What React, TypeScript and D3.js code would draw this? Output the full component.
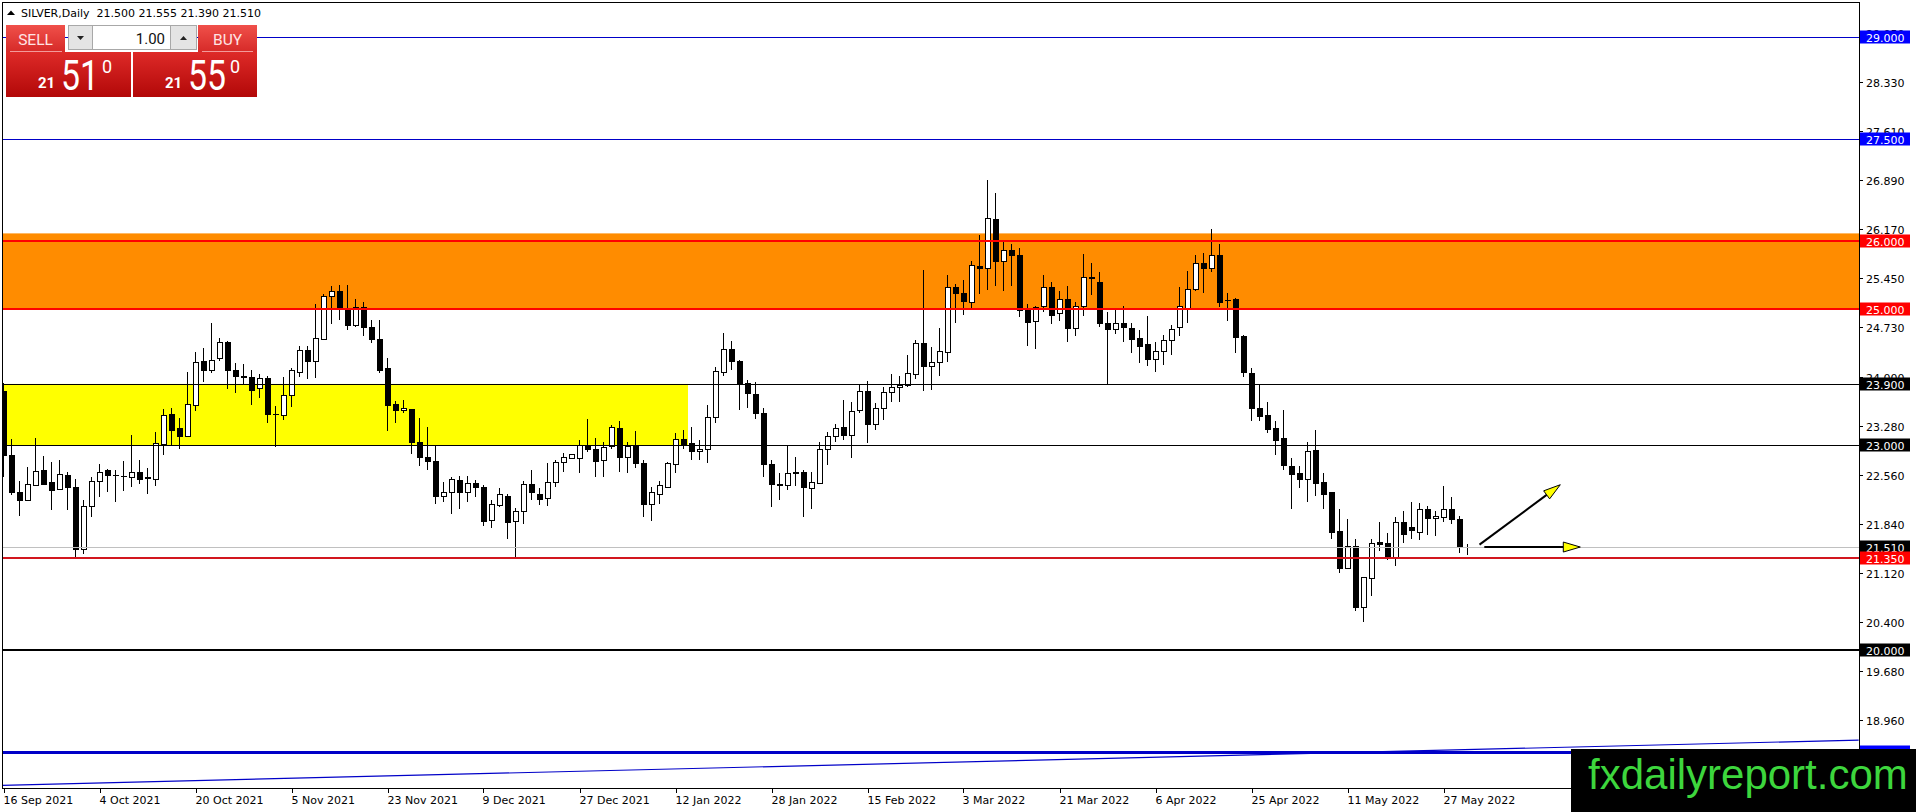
import React from 'react';
import * as d3 from 'd3';

// SILVER daily candles, 16 Sep 2021 .. 1 Jun 2022
const opens = [
  23.79, 22.86, 22.31, 22.19, 22.42, 22.63, 22.46, 22.36, 22.56, 22.39,
  21.47, 22.11, 22.47, 22.64, 22.565, 22.55, 22.54, 22.61, 22.53, 22.5,
  23.02, 23.46, 23.25, 23.13, 23.59, 24.24, 24.1, 24.28, 24.52, 24.1,
  24.01, 24.0, 23.84, 23.99, 23.46, 23.45, 23.73, 24.08, 24.4, 24.24,
  24.56, 25.19, 25.26, 25.0, 24.77, 25.03, 24.73, 24.56, 24.13, 23.6,
  23.51, 23.53, 23.05, 22.83, 22.77, 22.26, 22.32, 22.49, 22.32, 22.44,
  22.38, 21.9, 22.12, 22.26, 21.89, 22.03, 22.43, 22.29, 22.22, 22.46,
  22.75, 22.81, 22.81, 23.0, 22.95, 22.78, 22.99, 23.25, 22.83, 22.99,
  22.74, 22.13, 22.29, 22.39, 22.72, 23.09, 23.03, 22.91, 22.95, 23.41,
  24.07, 24.41, 24.24, 23.92, 23.75, 23.47, 22.72, 22.43, 22.42, 22.605,
  22.6, 22.37, 22.44, 22.95, 23.14, 23.27, 23.15, 23.51, 23.8, 23.31,
  23.55, 23.78, 23.85, 23.88, 24.04, 24.5, 24.17, 24.22, 24.37, 25.32,
  25.24, 25.11, 25.63, 25.6, 26.32, 25.71, 25.86, 25.8, 24.99, 24.83,
  25.04, 25.32, 24.94, 25.14, 24.72, 25.04, 25.465, 25.39, 24.8, 24.7,
  24.8, 24.72, 24.57, 24.49, 24.27, 24.39, 24.54, 24.73, 25.02, 25.3,
  25.67, 25.6, 25.79, 25.13, 25.14, 24.6, 24.06, 23.55, 23.45, 23.25,
  23.1, 22.7, 22.59, 22.51, 22.93, 22.46, 22.31, 21.74, 21.2, 21.52,
  20.63, 21.05, 21.58, 21.57, 21.35, 21.87, 21.8, 21.73, 22.06, 21.93,
  21.94, 22.06, 21.91, 21.5,
];
const highs = [
  23.91, 23.09, 22.47, 22.68, 23.11, 22.84, 22.75, 22.79, 22.61, 22.5,
  22.2, 22.54, 22.72, 22.65, 22.64, 22.77, 23.15, 22.78, 22.67, 23.19,
  23.53, 23.54, 23.4, 24.08, 24.37, 24.43, 24.79, 24.57, 24.53, 24.2,
  24.19, 24.1, 24.05, 24.02, 23.58, 24.0, 24.14, 24.46, 24.45, 25.08,
  25.22, 25.34, 25.35, 25.35, 25.14, 25.11, 24.84, 24.84, 24.28, 23.65,
  23.67, 23.53, 23.4, 23.27, 23.0, 22.46, 22.54, 22.55, 22.55, 22.49,
  22.42, 22.19, 22.37, 22.28, 22.08, 22.48, 22.64, 22.37, 22.74, 22.78,
  22.89, 22.87, 23.08, 23.39, 23.1, 23.05, 23.3, 23.35, 23.05, 23.21,
  22.78, 22.39, 22.48, 22.76, 23.18, 23.22, 23.27, 23.08, 23.59, 24.15,
  24.65, 24.53, 24.25, 23.96, 23.93, 23.54, 22.78, 22.59, 23.0, 22.82,
  22.63, 22.61, 23.05, 23.2, 23.31, 23.66, 23.64, 23.88, 23.94, 23.62,
  23.86, 24.04, 24.01, 24.33, 24.55, 25.57, 24.44, 24.72, 25.5, 25.37,
  25.43, 25.7, 26.09, 26.89, 26.71, 25.99, 25.95, 25.89, 25.07, 25.05,
  25.5, 25.4, 25.26, 25.34, 25.11, 25.81, 25.67, 25.54, 24.96, 24.99,
  25.04, 24.8, 24.69, 24.9, 24.52, 24.62, 24.77, 25.33, 25.56, 25.79,
  25.82, 26.17, 25.96, 25.24, 25.16, 24.62, 24.13, 23.88, 23.64, 23.36,
  23.52, 22.81, 22.7, 23.05, 23.23, 22.59, 22.32, 22.06, 21.91, 21.62,
  21.07, 21.63, 21.87, 21.71, 21.94, 22.03, 22.16, 22.15, 22.11, 22.04,
  22.4, 22.24, 21.96, 21.555,
];
const lows = [
  22.54, 22.27, 21.96, 22.18, 22.4, 22.42, 22.05, 22.34, 22.05, 21.36,
  21.4, 21.94, 22.24, 22.31, 22.16, 22.33, 22.38, 22.43, 22.29, 22.4,
  22.85, 23.0, 22.95, 23.13, 23.5, 23.93, 24.06, 24.23, 23.82, 23.77,
  23.9, 23.59, 23.69, 23.33, 22.97, 23.37, 23.56, 24.0, 23.97, 23.99,
  24.54, 24.78, 24.84, 24.69, 24.74, 24.61, 24.5, 24.06, 23.21, 23.33,
  23.47, 22.87, 22.69, 22.63, 22.13, 22.16, 21.99, 22.06, 22.17, 22.24,
  21.81, 21.78, 22.1, 21.63, 21.36, 21.85, 22.19, 22.12, 22.11, 22.38,
  22.6, 22.8, 22.59, 22.9, 22.53, 22.54, 22.95, 22.61, 22.59, 22.67,
  21.94, 21.89, 22.14, 22.37, 22.59, 22.94, 22.78, 22.78, 22.74, 23.33,
  24.02, 24.1, 23.51, 23.54, 23.38, 22.53, 22.1, 22.19, 22.34, 22.4,
  21.95, 22.07, 22.43, 22.71, 23.04, 23.07, 22.81, 23.47, 23.03, 23.22,
  23.37, 23.63, 23.64, 23.85, 23.97, 23.8, 23.81, 24.02, 24.22, 24.8,
  24.91, 24.98, 25.22, 25.28, 25.34, 25.26, 25.34, 24.88, 24.46, 24.41,
  24.96, 24.78, 24.82, 24.52, 24.61, 24.9, 25.2, 24.74, 23.9, 24.63,
  24.51, 24.36, 24.21, 24.17, 24.07, 24.18, 24.32, 24.61, 24.8, 25.26,
  25.24, 25.55, 25.03, 24.83, 24.36, 24.0, 23.35, 23.35, 23.18, 22.85,
  22.64, 22.07, 22.37, 22.16, 22.25, 22.06, 21.62, 21.13, 21.2, 20.56,
  20.4, 20.79, 21.45, 21.32, 21.23, 21.56, 21.62, 21.61, 21.68, 21.67,
  21.88, 21.85, 21.42, 21.39,
];
const closes = [
  22.85, 22.32, 22.2, 22.43, 22.62, 22.43, 22.34, 22.58, 22.39, 21.48,
  22.11, 22.47, 22.61, 22.57, 22.56, 22.55, 22.61, 22.51, 22.52, 23.03,
  23.45, 23.23, 23.13, 23.6, 24.22, 24.1, 24.25, 24.52, 24.1, 24.01,
  24.0, 23.81, 23.99, 23.46, 23.46, 23.73, 24.11, 24.4, 24.24, 24.58,
  25.19, 25.26, 25.02, 24.77, 25.03, 24.74, 24.56, 24.11, 23.59, 23.51,
  23.54, 23.05, 22.83, 22.77, 22.26, 22.32, 22.5, 22.32, 22.44, 22.38,
  21.89, 22.13, 22.28, 21.88, 22.03, 22.43, 22.31, 22.21, 22.46, 22.75,
  22.82, 22.87, 23.01, 22.95, 22.77, 22.97, 23.27, 22.83, 22.99, 22.74,
  22.13, 22.31, 22.42, 22.74, 23.09, 23.02, 22.91, 22.94, 23.41, 24.09,
  24.41, 24.23, 23.92, 23.76, 23.47, 22.72, 22.43, 22.42, 22.59, 22.595,
  22.38, 22.46, 22.95, 23.14, 23.26, 23.15, 23.5, 23.8, 23.31, 23.55,
  23.78, 23.86, 23.88, 24.06, 24.5, 24.17, 24.22, 24.39, 25.32, 25.24,
  25.12, 25.64, 25.6, 26.33, 25.71, 25.87, 25.8, 24.99, 24.81, 25.03,
  25.32, 24.91, 25.14, 24.72, 25.05, 25.47, 25.455, 24.8, 24.7, 24.8,
  24.73, 24.56, 24.46, 24.27, 24.39, 24.54, 24.7, 25.04, 25.3, 25.67,
  25.6, 25.8, 25.11, 25.135, 24.59, 24.07, 23.55, 23.43, 23.24, 23.08,
  22.71, 22.58, 22.51, 22.92, 22.45, 22.29, 21.73, 21.2, 21.52, 20.63,
  21.06, 21.57, 21.55, 21.35, 21.87, 21.7, 21.75, 22.06, 21.93, 21.96,
  22.06, 21.91, 21.5, 21.51,
];

const dateLabels = [
  '16 Sep 2021', '4 Oct 2021', '20 Oct 2021', '5 Nov 2021', '23 Nov 2021', '9 Dec 2021',
  '27 Dec 2021', '12 Jan 2022', '28 Jan 2022', '15 Feb 2022', '3 Mar 2022', '21 Mar 2022',
  '6 Apr 2022', '25 Apr 2022', '11 May 2022', '27 May 2022',
];
const dateLabelBars = [0, 12, 24, 36, 48, 60, 72, 84, 96, 108, 120, 132, 144, 156, 168, 180];

const priceTicks = [29.05, 28.33, 27.61, 26.89, 26.17, 25.45, 24.73, 24.0, 23.28, 22.56, 21.84, 21.12, 20.4, 19.68, 18.96, 18.24];

// horizontal levels drawn by the analyst
const blueLevels = [29.0, 27.5];
const redLevels = [26.0, 25.0];
const blackLevels = [23.9, 23.0];
const supportLevel = 21.35;
const floorLevel = 20.0;
const baseLevel = 18.5;
const bidPrice = 21.51;

const orangeZone = [25.0, 26.11];
const yellowZone = [23.0, 23.9];
const yellowZoneEndBar = 86;

// rising trend line anchors: [bar, price]
const trendLine = [[-0.2, 18.006], [231.9, 18.671]];

// outlook arrows: start and end points [bar, price]
const upArrow = [[184.5, 21.54], [194.6, 22.42]];
const flatArrow = [[185.1, 21.505], [197.1, 21.505]];

const header = 'SILVER,Daily  21.500 21.555 21.390 21.510';

const W = 1916;
const H = 812;
const plot = { left: 2, top: 2, right: 1859, bottom: 788 };
const axisFont = '"DejaVu Sans", Verdana, sans-serif';

const x = d3.scaleLinear().domain([0, 183]).range([3.5, 1467.5]);
const y = d3.scaleLinear().domain([21.35, 25]).range([557.6, 309]);

const fmt = d3.format('.3f');

function Arrow({ pts }: { pts: number[][] }) {
  const [x0, y0] = [x(pts[0][0]), y(pts[0][1])];
  const [x1, y1] = [x(pts[1][0]), y(pts[1][1])];
  const ang = Math.atan2(y1 - y0, x1 - x0);
  const len = 17;
  const hw = 5;
  const bx = x1 - len * Math.cos(ang);
  const by = y1 - len * Math.sin(ang);
  const nx = -Math.sin(ang) * hw;
  const ny = Math.cos(ang) * hw;
  return (
    <g>
      <line x1={x0} y1={y0} x2={bx} y2={by} stroke="#000" strokeWidth={2} />
      <path d={`M${x1},${y1}L${bx + nx},${by + ny}L${bx - nx},${by - ny}Z`} fill="#ffff00" stroke="#000" strokeWidth={1} />
    </g>
  );
}

function LevelLabel({ v, color }: { v: number; color: string }) {
  const yy = Math.round(y(v));
  return (
    <g>
      <rect x={1860} y={yy - 6.5} width={50} height={13} fill={color} />
      <text x={1866} y={yy + 4.5} fontSize={11} fill="#fff" fontFamily={axisFont}>{fmt(v)}</text>
    </g>
  );
}

function TradePanel() {
  return (
    <g fontFamily="Roboto, 'Liberation Sans', sans-serif">
      <defs>
        <linearGradient id="btnGrad" x1="0" y1="0" x2="0" y2="1">
          <stop offset="0" stopColor="#f0504a" />
          <stop offset="1" stopColor="#d62a28" />
        </linearGradient>
        <linearGradient id="priceGrad" x1="0" y1="0" x2="0" y2="1">
          <stop offset="0" stopColor="#de2a28" />
          <stop offset="1" stopColor="#b20808" />
        </linearGradient>
      </defs>
      {/* sell / buy buttons */}
      <rect x={6} y={25} width={59} height={27} fill="url(#btnGrad)" />
      <text x={35.5} y={44.5} textAnchor="middle" fontSize={15.5} fill="#ffe4e4">SELL</text>
      <line x1={10} x2={62} y1={51.5} y2={51.5} stroke="#f39a9a" />
      <rect x={198} y={25} width={59} height={27} fill="url(#btnGrad)" />
      <text x={227.5} y={44.5} textAnchor="middle" fontSize={15.5} fill="#ffe4e4">BUY</text>
      <line x1={202} x2={253} y1={51.5} y2={51.5} stroke="#f39a9a" />
      {/* lot size spinner */}
      <rect x={68.5} y={25.5} width={128} height={24} fill="#fff" stroke="#a8a8a8" />
      <rect x={68.5} y={25.5} width={24} height={24} fill="#e4e4e4" stroke="#a8a8a8" />
      <rect x={170.5} y={25.5} width={26} height={24} fill="#e4e4e4" stroke="#a8a8a8" />
      <path d="M77,36L84,36L80.5,40Z" fill="#222" />
      <path d="M180,40L187,40L183.5,36Z" fill="#222" />
      <text x={165} y={43.5} textAnchor="end" fontSize={15} fill="#111">1.00</text>
      {/* price boxes */}
      <rect x={6} y={52} width={125} height={45} fill="url(#priceGrad)" />
      <rect x={133} y={52} width={124} height={45} fill="url(#priceGrad)" />
      <text x={38} y={88} fontSize={15} fontWeight="bold" fill="#fff">21</text>
      <text x={61} y={89.5} fontSize={42} fill="#fff" textLength={38} lengthAdjust="spacingAndGlyphs">51</text>
      <text x={102} y={73} fontSize={18} fill="#fff">0</text>
      <text x={165} y={88} fontSize={15} fontWeight="bold" fill="#fff">21</text>
      <text x={188} y={89.5} fontSize={42} fill="#fff" textLength={38} lengthAdjust="spacingAndGlyphs">55</text>
      <text x={230} y={73} fontSize={18} fill="#fff">0</text>
    </g>
  );
}

export default function App() {
  const lineX1 = plot.left;
  const lineX2 = plot.right;
  return (
    <div style={{ position: 'absolute', left: 0, top: 0, width: W, height: H, background: '#fff' }}>
      <svg width={W} height={H} viewBox={`0 0 ${W} ${H}`} style={{ display: 'block' }}>
        <rect x={0} y={0} width={W} height={H} fill="#fff" />
        <defs>
          <clipPath id="plotClip">
            <rect x={plot.left} y={plot.top} width={plot.right - plot.left} height={plot.bottom - plot.top} />
          </clipPath>
        </defs>

        <g clipPath="url(#plotClip)">
          {/* zones */}
          <rect x={lineX1} y={y(orangeZone[1])} width={lineX2 - lineX1} height={y(orangeZone[0]) - y(orangeZone[1])} fill="#ff8c00" />
          <rect x={lineX1} y={y(yellowZone[1])} width={x(yellowZoneEndBar) - lineX1 - 3.5} height={y(yellowZone[0]) - y(yellowZone[1])} fill="#ffff00" />

          {/* candles */}
          <g shapeRendering="crispEdges">
            {opens.map((o, i) => {
              const c = closes[i];
              const cx = x(i);
              const top = Math.round(y(Math.max(o, c)));
              const bot = Math.round(y(Math.min(o, c)));
              const bull = c >= o;
              return (
                <g key={i}>
                  <line x1={cx} x2={cx} y1={y(highs[i])} y2={y(lows[i])} stroke="#000" />
                  {bot - top < 1 ? (
                    <line x1={cx - 2.5} x2={cx + 3.5} y1={top + 0.5} y2={top + 0.5} stroke="#000" />
                  ) : bull ? (
                    <rect x={cx - 2} y={top + 0.5} width={5} height={bot - top} fill="#fff" stroke="#000" />
                  ) : (
                    <rect x={cx - 2.5} y={top} width={6} height={bot - top + 1} fill="#000" />
                  )}
                </g>
              );
            })}
          </g>

          {/* level lines */}
          <g shapeRendering="crispEdges">
            {blueLevels.map(v => (
              <line key={v} x1={lineX1} x2={lineX2} y1={Math.round(y(v)) + 0.5} y2={Math.round(y(v)) + 0.5} stroke="#0000c8" />
            ))}
            {redLevels.map(v => (
              <line key={v} x1={lineX1} x2={lineX2} y1={Math.round(y(v))} y2={Math.round(y(v))} stroke="#ff0000" strokeWidth={2} />
            ))}
            {blackLevels.map(v => (
              <line key={v} x1={lineX1} x2={lineX2} y1={Math.round(y(v)) + 0.5} y2={Math.round(y(v)) + 0.5} stroke="#000" />
            ))}
            <line x1={lineX1} x2={lineX2} y1={Math.round(y(bidPrice)) + 0.5} y2={Math.round(y(bidPrice)) + 0.5} stroke="#c0c0c0" />
            <line x1={lineX1} x2={lineX2} y1={Math.round(y(supportLevel))} y2={Math.round(y(supportLevel))} stroke="#d2161e" strokeWidth={2} />
            <line x1={lineX1} x2={lineX2} y1={Math.round(y(floorLevel))} y2={Math.round(y(floorLevel))} stroke="#000" strokeWidth={2} />
            <line x1={lineX1} x2={lineX2} y1={Math.round(y(baseLevel))} y2={Math.round(y(baseLevel))} stroke="#0000c8" strokeWidth={3} />
          </g>
          <line x1={x(trendLine[0][0])} y1={y(trendLine[0][1])} x2={x(trendLine[1][0])} y2={y(trendLine[1][1])} stroke="#0000c8" strokeWidth={1.2} />

          <Arrow pts={upArrow} />
          <Arrow pts={flatArrow} />
        </g>

        {/* frame */}
        <rect x={plot.left + 0.5} y={plot.top + 0.5} width={plot.right - plot.left} height={plot.bottom - plot.top} fill="none" stroke="#000" shapeRendering="crispEdges" />

        {/* price axis */}
        <g fontFamily={axisFont} fontSize={11} fill="#000" shapeRendering="crispEdges">
          {priceTicks.map(v => {
            const yy = Math.round(y(v)) + 0.5;
            return (
              <g key={v}>
                <line x1={plot.right} x2={plot.right + 4} y1={yy} y2={yy} stroke="#000" />
                <text x={1866} y={yy + 4}>{fmt(v)}</text>
              </g>
            );
          })}
        </g>
        <LevelLabel v={blueLevels[0]} color="#0000ff" />
        <LevelLabel v={blueLevels[1]} color="#0000ff" />
        <LevelLabel v={redLevels[0]} color="#ff0000" />
        <LevelLabel v={redLevels[1]} color="#ff0000" />
        <LevelLabel v={blackLevels[0]} color="#000" />
        <LevelLabel v={blackLevels[1]} color="#000" />
        <LevelLabel v={bidPrice} color="#000" />
        <LevelLabel v={supportLevel} color="#ff0000" />
        <LevelLabel v={floorLevel} color="#000" />
        <LevelLabel v={baseLevel} color="#0000ff" />

        {/* time axis */}
        <g fontFamily={axisFont} fontSize={11} fill="#000" shapeRendering="crispEdges">
          {dateLabels.map((d, k) => {
            const xx = Math.round(x(dateLabelBars[k])) + 0.5;
            return (
              <g key={d}>
                <line x1={xx} x2={xx} y1={plot.bottom} y2={plot.bottom + 5} stroke="#000" />
                <text x={xx - 1} y={804}>{d}</text>
              </g>
            );
          })}
        </g>

        {/* header */}
        <path d="M7,15L11,10.5L15,15Z" fill="#000" />
        <text x={21} y={17} fontFamily={axisFont} fontSize={11} fill="#000" style={{ whiteSpace: 'pre' }}>{header}</text>

        <TradePanel />

        {/* watermark */}
        <rect x={1571} y={749} width={345} height={63} fill="#000" />
        <text x={1588} y={789} fontFamily="'Liberation Sans', Arial, sans-serif" fontSize={42} fill="#3dd63d">fxdailyreport.com</text>
      </svg>
    </div>
  );
}
